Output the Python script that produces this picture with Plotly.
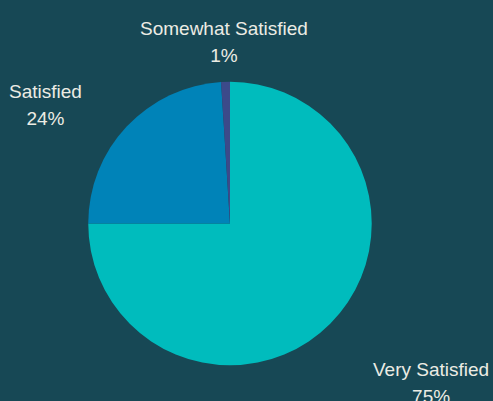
import math
import plotly.graph_objects as go

labels = ["Very Satisfied", "Satisfied", "Somewhat Satisfied"]
values = [75, 24, 1]
colors = ["#00bcbd", "#0083b8", "#3c4a8a"]

W, H = 493, 401
dom_x = [0.178, 0.755]
dom_y = [0.089, 0.796]

fig = go.Figure(go.Pie(
    labels=labels,
    values=values,
    sort=False,
    direction="clockwise",
    rotation=0,
    marker=dict(colors=colors, line=dict(width=0)),
    textinfo="none",
    showlegend=False,
    hole=0,
    domain=dict(x=dom_x, y=dom_y),
    hoverinfo="label+percent",
))

# Outside labels placed along each slice's mid-angle
cx = (dom_x[0] + dom_x[1]) / 2 * W
cy = (1 - (dom_y[0] + dom_y[1]) / 2) * H
label_r = 200
total = sum(values)
cum = 0
annotations = []
for lab, val in zip(labels, values):
    mid = (cum + val / 2) / total * 2 * math.pi
    cum += val
    s, c = math.sin(mid), -math.cos(mid)
    ax = cx + label_r * s
    ay = cy + label_r * c
    if abs(s) < 0.3:
        xanchor = "center"
    elif s < 0:
        xanchor = "right"
    else:
        xanchor = "left"
    pct = round(val / total * 100)
    txt = (f"<span style='font-size:19px'>{lab}</span><br>"
           f"<span style='font-size:19px'>{pct}%</span>")
    annotations.append(dict(
        x=ax / W, y=1 - (ay - 8) / H, xref="paper", yref="paper",
        text=txt, showarrow=False, xanchor=xanchor, yanchor="top",
        align="center",
        font=dict(size=21, color="#ecece4", family="Liberation Sans, Arial, sans-serif"),
    ))

fig.update_layout(
    width=W, height=H,
    paper_bgcolor="#174855",
    plot_bgcolor="#174855",
    margin=dict(l=0, r=0, t=0, b=0, autoexpand=False),
    font=dict(family="Liberation Sans, Arial, sans-serif", color="#ecece4"),
    annotations=annotations,
)

fig.write_html("out.html", config={"displayModeBar": False},
               post_script="document.body.style.margin='0';document.body.style.background='#174855';")
